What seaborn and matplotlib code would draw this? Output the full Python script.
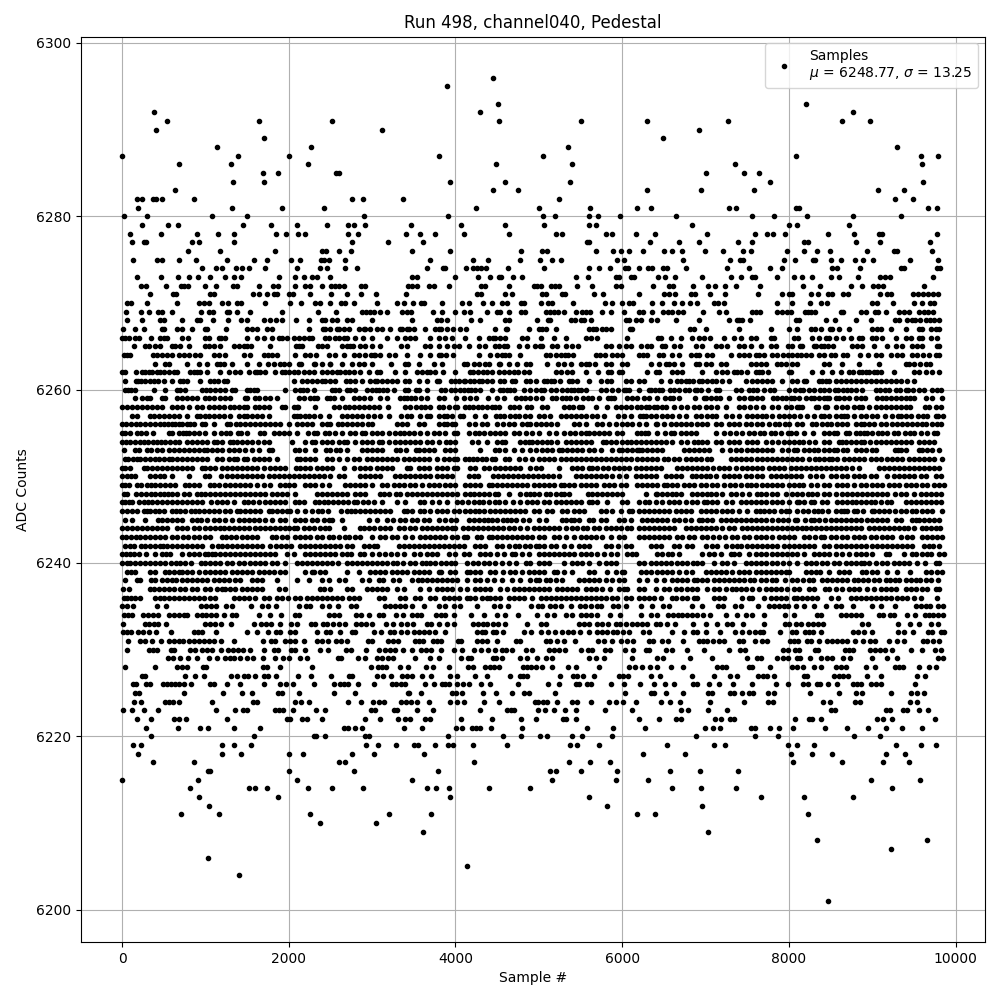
import matplotlib
matplotlib.use("Agg")
import matplotlib.pyplot as plt
from matplotlib.lines import Line2D
import seaborn as sns
import pandas as pd

title = "Run 498, channel040, Pedestal"
x_label = "Sample #"
y_label = "ADC Counts"
legend_label = "Samples\n$\\mu$ = 6248.77, $\\sigma$ = 13.25"

# Sample numbers, one list per ADC count.
adc_6296 = [4456]
adc_6295 = [3904]
adc_6293 = [4516, 8204]
adc_6292 = [384, 4300, 8766]
adc_6291 = [540, 1644, 2520, 4528, 5500, 6292, 7270, 8634, 8970]
adc_6290 = [408, 3120, 6922]
adc_6289 = [1704, 6492]
adc_6288 = [1140, 2268, 5344, 9292]
adc_6287 = [0, 1392, 2004, 3808, 5052, 8084, 9580, 9784]
adc_6286 = [684, 1308, 2232, 4492, 5400, 7353, 9592]
adc_6285 = [1692, 1872, 2564, 2604, 7006, 7461, 7641]
adc_6284 = [1332, 1704, 3940, 4600, 5376, 7772, 9604]
adc_6283 = [636, 4456, 4756, 6292, 6946, 7581, 9066, 9377]
adc_6282 = [176, 240, 376, 404, 480, 864, 2760, 2892, 3372, 5244, 9270, 9485]
adc_6281 = [192, 1320, 1920, 2424, 4252, 4996, 5616, 6180, 6348, 7281, 7365, 8084, 8120, 9665, 9773]
adc_6280 = [24, 300, 1080, 1500, 2904, 3916, 5052, 5196, 5604, 5712, 5976, 6648, 7557, 7820, 8216, 8766, 9341]
adc_6279 = [240, 552, 672, 1452, 1788, 2100, 2460, 2712, 2784, 2916, 3472, 4072, 4600, 5064, 5604, 5688, 6840,
            8000, 8096, 8719]
adc_6278 = [96, 468, 900, 1152, 1348, 1848, 1968, 2112, 2196, 2712, 2832, 3408, 3580, 3760, 4108, 4648, 5208, 5280,
            5808, 5880, 6168, 6396, 7018, 7593, 7737, 7808, 7952, 8467, 8778, 9078, 9114, 9772]
adc_6277 = [120, 264, 288, 840, 924, 1344, 2760, 3192, 3616, 5580, 5604, 6336, 6684, 6924, 7389, 7557, 8180, 8228,
            8802, 9090, 9689]
adc_6276 = [792, 1176, 1836, 2400, 2444, 2604, 2748, 3484, 3940, 4792, 5040, 5100, 5688, 5892, 5988, 6084, 6252, 6504,
            6600, 6718, 6994, 7210, 7449, 7545, 7976, 8180, 8335, 8491, 8934, 9258, 9294, 9713]
adc_6275 = [132, 420, 480, 684, 888, 1260, 1584, 1740, 2028, 2136, 2392, 2424, 2484, 2676, 3700, 4216, 4396, 4780,
            5008, 5160, 5260, 5940, 6024, 6730, 7293, 7413, 7449, 7940, 8072, 8287, 8311, 8503, 8623, 8790, 8886,
            9006, 9449, 9785]
adc_6274 = [960, 1128, 1200, 1368, 1440, 1524, 1716, 2100, 2376, 2460, 2676, 2820, 3664, 3856, 3880, 4132, 4216, 4264,
            4312, 4372, 4636, 5064, 5604, 5724, 5856, 6036, 6072, 6204, 6312, 6360, 6492, 6532, 6766, 7257, 7521,
            7772, 7916, 8515, 8575, 8850, 9341, 9377, 9772, 9808]
adc_6273 = [180, 468, 672, 804, 912, 1056, 1236, 1344, 1428, 1884, 2076, 2184, 2280, 2340, 2496, 3484, 3536, 4000,
            4276, 4420, 4528, 4552, 4696, 4804, 5448, 5592, 5928, 5964, 6108, 6144, 6432, 6516, 6636, 6958, 7305,
            7425, 7557, 7593, 7856, 8060, 8156, 8275, 8503, 8599, 8826, 9090, 9150, 9210, 9725]
adc_6272 = [228, 288, 528, 704, 744, 792, 996, 1128, 1332, 1380, 1644, 1812, 1872, 2076, 2196, 2256, 2400, 2508, 2556,
            2604, 2664, 2868, 2916, 3432, 3484, 3544, 3688, 3748, 3928, 4312, 4360, 4648, 4936, 4972, 5020, 5140,
            5188, 5244, 5460, 5640, 5928, 5988, 6372, 6564, 6612, 6850, 7030, 7114, 7234, 7365, 7653, 8168, 8371,
            8743, 8874, 9006, 9066, 9126, 9617]
adc_6271 = [336, 612, 648, 1056, 1104, 1572, 1644, 1740, 1824, 1864, 2004, 2052, 2256, 2508, 2700, 2868, 3048, 3408,
            4264, 4312, 4600, 4684, 5040, 5088, 5280, 5316, 5664, 5772, 6204, 6504, 6564, 6636, 6826, 6874, 7054,
            7234, 7629, 7916, 8000, 8036, 8263, 8347, 8467, 8515, 8647, 8707, 9090, 9174, 9222, 9485, 9545, 9605,
            9665, 9725, 9785]
adc_6270 = [60, 104, 300, 660, 924, 984, 1044, 1200, 1272, 1380, 1428, 1716, 2016, 2148, 2316, 2376, 2496, 2628, 2676,
            2784, 3060, 3304, 3384, 3496, 3592, 3628, 3844, 4084, 4168, 4336, 4444, 4564, 4624, 4792, 4828, 5030,
            5114, 5160, 5412, 5792, 5876, 6000, 6084, 6132, 6356, 6476, 6620, 6716, 6814, 6898, 7102, 7150, 7222,
            7856, 8036, 8251, 8383, 8455, 8994, 9054, 9245, 9497, 9593, 9689, 9737]
adc_6269 = [48, 228, 328, 432, 480, 600, 948, 1048, 1096, 1260, 1288, 1380, 1540, 1920, 2352, 2572, 2876, 2924, 2976,
            3024, 3100, 3184, 3364, 3416, 3464, 3736, 3844, 3992, 4104, 4172, 4376, 4500, 4532, 4640, 4792, 4832,
            5080, 5128, 5176, 5224, 5300, 5440, 5520, 5568, 5616, 5752, 5860, 6020, 6200, 6252, 6360, 6492, 6548,
            6600, 6668, 6728, 6972, 7160, 7240, 7560, 7608, 7652, 7860, 7920, 7980, 8028, 8190, 8230, 8260, 8312,
            8620, 8652, 8860, 8920, 9032, 9072, 9160, 9320, 9380, 9440, 9560, 9620, 9672, 9728]
adc_6268 = [60, 244, 456, 508, 720, 896, 936, 1096, 1268, 1424, 1500, 1700, 1780, 1844, 1920, 2092, 2240, 2400, 2440,
            2524, 2576, 2700, 2756, 3000, 3480, 3780, 3824, 3900, 4190, 4290, 4590, 4640, 4980, 5110, 5130, 5390,
            5430, 5500, 5540, 5620, 6040, 6080, 6160, 6230, 6340, 6420, 6650, 6920, 7280, 7380, 7400, 7440, 7530,
            8090, 8120, 8440, 8550, 8800, 8990, 9270, 9320, 9420, 9480, 9510, 9570, 9640, 9690, 9740, 9800]
adc_6267 = [16, 160, 260, 480, 500, 660, 720, 840, 1000, 1020, 1250, 1500, 1560, 1620, 1740, 1800, 2240, 2410, 2440,
            2500, 2580, 2600, 2660, 2720, 2840, 2900, 2920, 2980, 3060, 3120, 3220, 3330, 3360, 3420, 3440, 3500,
            3640, 3760, 3800, 3830, 3900, 3970, 4050, 4130, 4480, 4620, 4610, 4880, 5000, 5040, 5080, 5200, 5600,
            5650, 5690, 5760, 5800, 5860, 6090, 6120, 6810, 6860, 7000, 7400, 7780, 8000, 8100, 8270, 8310, 8380,
            8490, 8520, 8600, 8720, 9000, 9060, 9100, 9220, 9410, 9560, 9600, 9700, 9760, 9800]
adc_6266 = [0, 30, 80, 160, 200, 350, 450, 500, 540, 720, 790, 1000, 1040, 1160, 1190, 1240, 1500, 1620, 1700, 1800,
            1880, 1920, 1980, 2060, 2120, 2180, 2240, 2280, 2440, 2480, 2560, 2600, 2660, 2700, 2800, 2890, 3000,
            3180, 3300, 3400, 3450, 3510, 3700, 3800, 3880, 3960, 4120, 4280, 4400, 4450, 4480, 4530, 4600, 4800,
            4860, 5020, 5180, 5320, 5560, 5620, 5700, 6060, 6430, 6460, 6590, 6700, 6840, 6920, 6980, 7050, 7220,
            7340, 7430, 7540, 7600, 7790, 7820, 8060, 8110, 8280, 8360, 8440, 8480, 8560, 8650, 8740, 8840, 8880,
            9000, 9040, 9120, 9280, 9400, 9460, 9560, 9600, 9700, 9780]
adc_6265 = [140, 270, 320, 400, 450, 600, 640, 700, 800, 1000, 1040, 1100, 1180, 1340, 1400, 1460, 1500, 1550, 1780,
            2090, 2120, 2160, 2350, 2400, 2460, 2640, 2700, 2740, 2770, 2850, 2920, 3000, 3100, 3350, 3420, 3640,
            3700, 3800, 3900, 3980, 4040, 4160, 4280, 4360, 4470, 4520, 4580, 4620, 4760, 4860, 4950, 5010, 5040,
            5160, 5220, 5330, 5400, 5470, 5800, 5860, 5960, 6040, 6100, 6220, 6300, 6350, 6480, 6510, 6620, 6690,
            6880, 6960, 7120, 7180, 7260, 7400, 7460, 7540, 7660, 7780, 7840, 7990, 8040, 8130, 8160, 8300, 8320,
            8390, 8420, 8470, 8530, 8760, 8820, 8880, 9020, 9180, 9290, 9360, 9480, 9540, 9600, 9780, 9800]
adc_6264 = [20, 60, 100, 370, 420, 480, 540, 600, 680, 740, 800, 880, 930, 1100, 1160, 1230, 1460, 1540, 1700, 1750,
            1800, 1860, 2080, 2190, 2260, 2330, 2480, 2560, 2660, 2780, 2840, 2920, 2990, 3020, 3040, 3100, 3200,
            3270, 3420, 3570, 3700, 3800, 3830, 3890, 3970, 4280, 4410, 4500, 4560, 4590, 4640, 4780, 5090, 5130,
            5200, 5260, 5310, 5350, 5410, 5680, 5730, 5790, 5880, 5940, 6000, 6200, 6250, 6300, 6440, 6490, 6600,
            6680, 6830, 6880, 6920, 7020, 7080, 7300, 7400, 7460, 7520, 7600, 7640, 7700, 7800, 7860, 7930, 7990,
            8040, 8100, 8140, 8200, 8260, 8360, 8420, 8500, 8550, 8650, 8700, 8850, 8950, 9040, 9110, 9220, 9300,
            9360, 9480, 9540, 9610, 9680, 9760, 9800]
adc_6263 = [400, 520, 560, 780, 920, 1020, 1140, 1170, 1220, 1320, 1500, 1640, 1750, 1820, 1900, 1940, 2000, 2120,
            2150, 2300, 2320, 2400, 2490, 2500, 2640, 2760, 2840, 2900, 3000, 3230, 3400, 3430, 3560, 3740, 3840,
            4100, 4140, 4220, 4280, 4360, 4400, 4520, 4540, 4640, 4740, 4850, 4900, 5100, 5230, 5300, 5380, 5500,
            5560, 5600, 5670, 5800, 5870, 6000, 6060, 6340, 6440, 6520, 6560, 6620, 6720, 6880, 6920, 7000, 7060,
            7180, 7240, 7540, 7600, 7660, 7720, 7860, 7900, 7960, 8040, 8100, 8420, 8480, 8640, 8840, 9080, 9400,
            9440, 9500, 9570, 9640, 9690]
adc_6262 = [0, 40, 170, 240, 280, 320, 360, 420, 460, 500, 560, 620, 660, 820, 860, 900, 940, 1020, 1170, 1280, 1360,
            1420, 1520, 1600, 1620, 1660, 1720, 1830, 1920, 1960, 2000, 2060, 2110, 2180, 2240, 2300, 2400, 2460,
            2520, 2580, 2620, 2680, 2720, 2780, 2850, 2960, 3060, 3100, 3280, 3400, 3540, 3600, 3660, 3700, 3760,
            3850, 4000, 4180, 4210, 4270, 4330, 4380, 4440, 4520, 4580, 4640, 4700, 4750, 4820, 4880, 5200, 5260,
            5340, 5400, 5560, 5710, 5830, 5860, 5960, 6000, 6300, 6400, 6440, 6600, 6660, 6720, 6960, 7120, 7200,
            7260, 7340, 7380, 7420, 7500, 7600, 7640, 7680, 7750, 8000, 8030, 8280, 8400, 8520, 8620, 8720, 8770,
            8840, 8880, 8920, 8960, 9020, 9060, 9100, 9260, 9500, 9560, 9640, 9720, 9800]
adc_6261 = [30, 170, 190, 230, 280, 330, 380, 430, 500, 600, 700, 730, 780, 930, 1060, 1100, 1150, 1220, 1260, 2064,
            2160, 2220, 2280, 2340, 2400, 2440, 2500, 2560, 2690, 2730, 2790, 2880, 2980, 3040, 3060, 3120, 3180,
            3240, 3300, 3400, 3440, 3560, 3660, 3780, 3800, 3950, 4000, 4040, 4100, 4120, 4170, 4220, 4280, 4320,
            4380, 4440, 4540, 4580, 4680, 4720, 4850, 4900, 4960, 5060, 5100, 5140, 5180, 5250, 5360, 5400, 5460,
            5600, 5750, 5820, 5860, 6040, 6100, 6200, 6260, 6460, 6570, 6660, 6700, 6760, 6800, 6850, 6920, 6960,
            7020, 7080, 7120, 7200, 7280, 7480, 7560, 7620, 7680, 7740, 7800, 7920, 8040, 8100, 8180, 8210, 8360,
            8400, 8440, 8480, 8560, 8620, 8680, 8740, 8800, 8860, 8920, 8980, 9040, 9100, 9160, 9220, 9280, 9340,
            9420, 9500]
adc_6260 = [30, 70, 110, 160, 380, 520, 660, 700, 750, 960, 1010, 1050, 1120, 1180, 1240, 1320, 1360, 1500, 1540, 1580,
            1620, 1960, 2080, 2130, 2170, 2220, 2300, 2520, 2560, 2600, 2700, 2740, 2800, 2940, 3000, 3050, 3080,
            3130, 3180, 3260, 3400, 3430, 3530, 3560, 3660, 3830, 3880, 3950, 4000, 4060, 4100, 4150, 4190, 4230,
            4300, 4440, 4530, 4570, 4620, 4650, 4700, 4820, 4900, 4960, 5020, 5060, 5150, 5200, 5280, 5340, 5380,
            5420, 5470, 5500, 5570, 5750, 5800, 5880, 5950, 6020, 6050, 6080, 6200, 6320, 6340, 6390, 6440, 6480,
            6570, 6620, 6680, 6750, 6800, 6870, 6900, 6950, 7030, 7120, 7160, 7370, 7420, 7520, 7570, 7620, 7700,
            7770, 7820, 8000, 8070, 8130, 8170, 8240, 8300, 8370, 8420, 8480, 8550, 8590, 8650, 8700, 8740, 8800,
            8880, 9040, 9090, 9150, 9200, 9290, 9330, 9400, 9430, 9490, 9560, 9620, 9720, 9780, 9820]
adc_6259 = [160, 240, 300, 340, 480, 520, 660, 720, 780, 840, 900, 1000, 1040, 1100, 1180, 1240, 1300, 1480, 1500,
            1600, 1640, 1720, 1780, 1860, 2120, 2180, 2260, 2300, 2340, 2460, 2500, 2540, 2640, 2780, 2840, 2900,
            2980, 3090, 3180, 3330, 3380, 3420, 3470, 3520, 3590, 3660, 3800, 3860, 4010, 4100, 4170, 4250, 4390,
            4500, 4580, 4730, 4790, 4840, 4890, 4970, 5040, 5160, 5200, 5280, 5320, 5370, 5440, 5530, 5590, 5640,
            5720, 5830, 5860, 5900, 6060, 6120, 6180, 6260, 6320, 6420, 6510, 6570, 6610, 6680, 6870, 6980, 7000,
            7060, 7120, 7170, 7280, 7400, 7460, 7530, 7560, 7620, 7680, 7810, 7860, 7920, 7960, 8030, 8060, 8120,
            8200, 8260, 8300, 8360, 8420, 8460, 8480, 8560, 8600, 8660, 8720, 8800, 8860, 8910, 9060, 9120, 9170,
            9220, 9280, 9340, 9400, 9450, 9500, 9640, 9720, 9840]
adc_6258 = [0, 60, 120, 180, 240, 300, 360, 420, 480, 600, 660, 720, 800, 900, 960, 1040, 1100, 1160, 1220, 1300, 1340,
            1400, 1460, 1500, 1600, 1640, 1700, 1760, 1920, 1960, 2060, 2100, 2110, 2320, 2540, 2600, 2680, 2720,
            2780, 2840, 2900, 2960, 3020, 3080, 3190, 3400, 3450, 3530, 3590, 3640, 3700, 3800, 3850, 3920, 4000,
            4020, 4120, 4160, 4210, 4270, 4320, 4380, 4440, 4470, 4520, 4660, 4700, 4760, 4860, 4910, 5040, 5100,
            5300, 5360, 5410, 5480, 5520, 5680, 5820, 5920, 5990, 6040, 6100, 6180, 6220, 6280, 6320, 6380, 6420,
            6480, 6530, 6620, 6700, 6780, 6860, 6920, 7000, 7060, 7140, 7250, 7400, 7460, 7530, 7600, 7690, 7800,
            7870, 7960, 8030, 8100, 8120, 8160, 8320, 8350, 8430, 8460, 8570, 8640, 8700, 8780, 8840, 8880, 8960,
            9040, 9100, 9170, 9220, 9290, 9350, 9400, 9450, 9630, 9680, 9760, 9820]
adc_6257 = [120, 180, 340, 380, 440, 500, 560, 620, 680, 780, 900, 940, 1000, 1040, 1100, 1160, 1220, 1300, 1400, 1460,
            1500, 1560, 1620, 1680, 1760, 2060, 2100, 2140, 2190, 2240, 2300, 2380, 2480, 2640, 2700, 2760, 2820,
            2880, 2950, 3020, 3100, 3200, 3350, 3420, 3470, 3580, 3660, 3700, 3800, 3860, 3900, 3960, 4060, 4090,
            4240, 4350, 4490, 4540, 4580, 4650, 4720, 4760, 4830, 4900, 5000, 5060, 5130, 5260, 5320, 5380, 5450,
            5500, 5570, 5640, 5700, 5780, 5950, 6020, 6100, 6210, 6250, 6290, 6350, 6410, 6480, 6540, 6600, 6680,
            6770, 6880, 6950, 7020, 7080, 7120, 7240, 7320, 7400, 7500, 7560, 7620, 7680, 7730, 7800, 7880, 7940,
            8000, 8060, 8130, 8220, 8300, 8380, 8420, 8480, 8560, 8620, 8660, 8700, 8780, 8860, 8920, 9000, 9060,
            9150, 9240, 9310, 9340, 9400, 9460, 9550, 9610, 9660, 9760, 9790, 9850]
adc_6256 = [0, 50, 110, 170, 220, 280, 340, 400, 450, 500, 550, 600, 640, 680, 720, 780, 820, 860, 960, 1000, 1100,
            1260, 1300, 1370, 1420, 1480, 1540, 1600, 1660, 1720, 1780, 1840, 1900, 2000, 2100, 2160, 2220, 2280,
            2400, 2460, 2500, 2590, 2640, 2700, 2760, 2820, 2880, 2950, 3000, 3300, 3360, 3420, 3560, 3620, 3800,
            3860, 3900, 3960, 4000, 4160, 4240, 4320, 4380, 4500, 4570, 4640, 4700, 4800, 4860, 4900, 4960, 5020,
            5080, 5150, 5220, 5420, 5480, 5560, 5700, 5760, 5840, 5920, 6000, 6060, 6120, 6200, 6290, 6400, 6420,
            6500, 6580, 6640, 6700, 6760, 6830, 6900, 6960, 7020, 7130, 7180, 7280, 7340, 7400, 7480, 7540, 7620,
            7680, 7760, 7830, 7880, 7950, 8000, 8100, 8160, 8280, 8320, 8400, 8460, 8510, 8580, 8640, 8700, 8800,
            8860, 8900, 8960, 9020, 9100, 9170, 9240, 9300, 9360, 9420, 9480, 9540, 9600, 9650, 9720, 9780, 9820]
adc_6255 = [0, 40, 100, 180, 230, 290, 370, 560, 600, 680, 730, 770, 800, 860, 920, 1000, 1100, 1190, 1250, 1300, 1390,
            1430, 1500, 1660, 1700, 1820, 1880, 1940, 2000, 2100, 2230, 2300, 2340, 2430, 2480, 2560, 2640, 2730,
            2800, 2880, 2920, 3000, 3060, 3120, 3200, 3280, 3340, 3380, 3440, 3500, 3580, 3660, 3740, 3800, 3880,
            3980, 4020, 4160, 4240, 4280, 4340, 4420, 4480, 4530, 4600, 4700, 4760, 4850, 4920, 5000, 5120, 5200,
            5300, 5370, 5430, 5500, 5560, 5600, 5660, 5720, 5780, 5840, 5940, 6000, 6180, 6220, 6270, 6310, 6420,
            6510, 6580, 6620, 6700, 6770, 6820, 6880, 7130, 7220, 7290, 7370, 7440, 7520, 7580, 7650, 7700, 7790,
            7830, 7900, 7990, 8020, 8080, 8180, 8290, 8420, 8480, 8540, 8580, 8680, 8720, 8800, 8850, 8900, 8940,
            9000, 9070, 9120, 9180, 9260, 9310, 9390, 9450, 9500, 9580, 9660, 9740, 9780]
adc_6254 = [0, 50, 100, 160, 220, 260, 310, 370, 420, 470, 520, 580, 640, 680, 780, 840, 900, 960, 1020, 1100, 1140,
            1200, 1290, 1330, 1380, 1440, 1500, 1560, 1630, 1700, 1760, 2040, 2200, 2280, 2320, 2400, 2460, 2520,
            2600, 2660, 2700, 2800, 2880, 2940, 3000, 3080, 3120, 3200, 3280, 3340, 3400, 3450, 3520, 3580, 3660,
            3720, 3800, 3890, 3930, 3990, 4200, 4270, 4380, 4500, 4560, 4600, 4780, 4830, 4880, 4920, 4980, 5040,
            5100, 5140, 5220, 5320, 5380, 5440, 5500, 5560, 5620, 5770, 5810, 5870, 5930, 6000, 6060, 6100, 6170,
            6230, 6280, 6340, 6400, 6460, 6530, 6600, 6700, 6780, 6860, 6910, 6960, 7020, 7120, 7180, 7280, 7340,
            7400, 7500, 7560, 7620, 7720, 7800, 7870, 7940, 8000, 8060, 8120, 8170, 8240, 8310, 8420, 8480, 8600,
            8640, 8690, 8740, 8800, 8860, 8900, 8970, 9040, 9100, 9160, 9220, 9280, 9340, 9400, 9470, 9560, 9620,
            9680, 9740]
adc_6253 = [20, 160, 200, 300, 350, 420, 480, 560, 620, 680, 740, 800, 860, 920, 980, 1020, 1080, 1140, 1200, 1280,
            1340, 1400, 1480, 1560, 1640, 1760, 1800, 2070, 2120, 2200, 2320, 2450, 2500, 2570, 2620, 2700, 2880,
            2940, 3000, 3060, 3120, 3290, 3340, 3410, 3530, 3560, 3620, 3680, 3740, 3880, 3940, 4000, 4300, 4480,
            4520, 4600, 4700, 4800, 4900, 4960, 5040, 5100, 5160, 5240, 5280, 5340, 5400, 5460, 5520, 5600, 5660,
            5740, 5880, 5960, 6000, 6060, 6120, 6180, 6200, 6240, 6300, 6360, 6420, 6480, 6740, 6800, 6860, 6920,
            6980, 7040, 7200, 7290, 7360, 7420, 7500, 7560, 7620, 7680, 7740, 7800, 7920, 7990, 8060, 8100, 8180,
            8240, 8300, 8350, 8420, 8480, 8540, 8580, 8650, 8700, 8800, 8860, 8920, 9000, 9050, 9270, 9310, 9350,
            9400, 9560, 9600, 9660, 9720, 9800]
adc_6252 = [40, 70, 130, 180, 220, 280, 340, 400, 440, 500, 560, 600, 660, 720, 780, 840, 900, 960, 1020, 1140, 1200,
            1280, 1340, 1380, 1460, 1500, 1580, 1640, 1700, 1760, 1860, 2100, 2140, 2200, 2260, 2320, 2460, 2520,
            2600, 2700, 2780, 2840, 2940, 3000, 3060, 3120, 3180, 3240, 3300, 3380, 3440, 3500, 3560, 3620, 3680,
            3780, 3860, 3920, 3980, 4020, 4120, 4160, 4210, 4260, 4320, 4370, 4440, 4480, 4600, 4640, 4760, 4840,
            4920, 5000, 5060, 5120, 5180, 5260, 5320, 5380, 5440, 5500, 5560, 5620, 5680, 5740, 5800, 5860, 5920,
            5980, 6040, 6100, 6180, 6240, 6300, 6360, 6420, 6500, 6550, 6620, 6680, 6760, 6820, 6880, 6940, 7020,
            7060, 7300, 7360, 7420, 7480, 7540, 7620, 7680, 7740, 7800, 7860, 7920, 7980, 8040, 8100, 8160, 8240,
            8310, 8360, 8420, 8480, 8520, 8580, 8660, 8720, 8780, 8840, 8900, 8980, 9040, 9110, 9180, 9240, 9300,
            9360, 9440, 9500, 9560, 9620, 9680, 9740, 9840]
adc_6251 = [0, 40, 90, 260, 300, 360, 420, 480, 540, 600, 660, 720, 780, 840, 960, 1000, 1060, 1120, 1200, 1260, 1320,
            1380, 1440, 1500, 1560, 1620, 1700, 1780, 1840, 1900, 1960, 2090, 2130, 2200, 2260, 2340, 2400, 2460,
            2520, 2660, 2780, 2860, 2920, 2980, 3060, 3120, 3180, 3240, 3420, 3460, 3560, 3620, 3680, 3780, 3840,
            3900, 3980, 4020, 4180, 4240, 4340, 4400, 4480, 4540, 4600, 4660, 4720, 4780, 4900, 4960, 5020, 5240,
            5400, 5460, 5520, 5600, 5640, 5700, 5770, 5830, 5900, 5960, 6020, 6080, 6160, 6220, 6280, 6340, 6400,
            6460, 6660, 6720, 6780, 6840, 6900, 6960, 7020, 7090, 7160, 7220, 7280, 7370, 7440, 7500, 7560, 7620,
            7680, 7760, 7820, 7880, 7940, 8020, 8080, 8140, 8200, 8260, 8320, 8380, 8440, 8500, 8560, 8620, 8680,
            8760, 8840, 9080, 9140, 9200, 9260, 9320, 9380, 9440, 9500, 9560, 9620, 9680, 9740, 9800]
adc_6250 = [0, 60, 110, 160, 340, 400, 450, 500, 600, 800, 1000, 1040, 1190, 1260, 1320, 1380, 1440, 1500, 1560, 1620,
            1680, 1760, 1820, 1880, 1940, 2000, 2060, 2120, 2180, 2240, 2300, 2360, 2420, 2490, 2600, 2660, 2860,
            2920, 2980, 3040, 3100, 3280, 3340, 3400, 3460, 3520, 3580, 3640, 3700, 3780, 3840, 3900, 3960, 4160,
            4220, 4270, 4450, 4510, 4570, 4630, 4690, 4750, 4810, 4870, 4930, 4990, 5050, 5110, 5170, 5240, 5440,
            5500, 5560, 5620, 5680, 5740, 5800, 5880, 5960, 6040, 6160, 6220, 6280, 6340, 6400, 6520, 6580, 6640,
            6700, 6840, 6880, 6940, 7000, 7050, 7120, 7220, 7280, 7340, 7400, 7480, 7540, 7620, 7680, 7780, 7840,
            7900, 7960, 8020, 8080, 8150, 8250, 8320, 8400, 8500, 8560, 8640, 8700, 8780, 8840, 8900, 8980, 9040,
            9180, 9260, 9320, 9380, 9440, 9500, 9580, 9640, 9760, 9820]
adc_6249 = [0, 40, 80, 180, 230, 300, 350, 400, 460, 520, 580, 640, 760, 800, 860, 920, 1060, 1100, 1160, 1230, 1300,
            1360, 1420, 1480, 1540, 1620, 1700, 1780, 1900, 1960, 2000, 2060, 2200, 2260, 2320, 2400, 2480, 2680,
            2740, 2800, 2860, 2920, 3000, 3120, 3180, 3260, 3320, 3380, 3460, 3520, 3600, 3680, 3740, 3800, 3880,
            3940, 4000, 4120, 4180, 4240, 4300, 4400, 4440, 4500, 4560, 4620, 4680, 4740, 4800, 4860, 4940, 5000,
            5060, 5120, 5180, 5260, 5300, 5360, 5420, 5500, 5570, 5620, 5680, 5780, 5840, 5900, 5980, 6040, 6180,
            6240, 6300, 6360, 6420, 6500, 6540, 6600, 6660, 6740, 6800, 6860, 6940, 7000, 7080, 7140, 7220, 7290,
            7350, 7420, 7500, 7550, 7600, 7680, 7740, 7800, 7860, 7920, 8000, 8060, 8120, 8170, 8270, 8340, 8420,
            8480, 8580, 8640, 8700, 8780, 8860, 8920, 9000, 9060, 9120, 9200, 9260, 9320, 9400, 9460, 9520, 9600,
            9660, 9740, 9800, 9860]
adc_6248 = [20, 60, 170, 230, 290, 350, 400, 450, 500, 550, 600, 660, 740, 800, 900, 950, 1000, 1060, 1120, 1180, 1240,
            1300, 1360, 1420, 1480, 1540, 1600, 1660, 1720, 1800, 1860, 1920, 1980, 2080, 2340, 2400, 2460, 2520,
            2580, 2640, 2700, 2800, 2860, 2920, 3090, 3140, 3200, 3290, 3340, 3420, 3480, 3540, 3600, 3660, 3720,
            3780, 3840, 3900, 3960, 4020, 4120, 4170, 4220, 4280, 4340, 4400, 4470, 4510, 4640, 4780, 4850, 4900,
            4940, 5000, 5080, 5130, 5200, 5260, 5300, 5360, 5590, 5640, 5700, 5760, 5820, 5880, 5940, 6000, 6280,
            6400, 6420, 6480, 6540, 6600, 6650, 6700, 6840, 6900, 6960, 7020, 7060, 7120, 7200, 7300, 7360, 7440,
            7520, 7620, 7660, 7720, 7800, 7860, 7960, 8040, 8100, 8160, 8230, 8280, 8340, 8420, 8480, 8560, 8640,
            8700, 8760, 8820, 8880, 8940, 9000, 9060, 9120, 9180, 9270, 9340, 9400, 9500, 9580, 9640, 9700, 9760,
            9820]
adc_6247 = [0, 40, 80, 120, 200, 260, 310, 360, 420, 480, 540, 600, 660, 720, 780, 840, 900, 960, 1070, 1140, 1200,
            1260, 1340, 1460, 1510, 1570, 1640, 1720, 1780, 1840, 1900, 1960, 2070, 2120, 2180, 2310, 2360, 2420,
            2470, 2530, 2590, 2650, 2710, 2780, 2820, 2890, 2950, 3020, 3120, 3300, 3400, 3570, 3620, 3720, 3800,
            3900, 4020, 4080, 4150, 4220, 4280, 4330, 4400, 4480, 4520, 4600, 4690, 4780, 4860, 4920, 4980, 5060,
            5120, 5200, 5260, 5330, 5380, 5440, 5500, 5600, 5640, 5700, 5820, 6000, 6060, 6200, 6270, 6320, 6400,
            6480, 6560, 6620, 6680, 6760, 6840, 6900, 6980, 7020, 7080, 7140, 7240, 7320, 7420, 7480, 7540, 7600,
            7660, 7720, 7800, 7860, 7920, 8000, 8100, 8120, 8180, 8260, 8300, 8400, 8460, 8580, 8640, 8700, 8760,
            8800, 8860, 8920, 8980, 9030, 9100, 9180, 9230, 9400, 9460, 9530, 9590, 9640, 9700, 9760, 9820]
adc_6246 = [0, 60, 120, 180, 260, 300, 340, 400, 440, 500, 600, 650, 700, 760, 830, 870, 920, 980, 1040, 1100, 1160,
            1240, 1300, 1380, 1420, 1480, 1540, 1600, 1660, 1760, 1800, 1860, 1920, 1980, 2020, 2100, 2200, 2280,
            2350, 2400, 2470, 2630, 2700, 2750, 2800, 2860, 2920, 2980, 3040, 3100, 3160, 3220, 3380, 3420, 3480,
            3570, 3620, 3700, 3780, 3840, 3900, 3980, 4040, 4120, 4180, 4240, 4280, 4340, 4410, 4470, 4530, 4590,
            4650, 4710, 4770, 4840, 4940, 5000, 5100, 5160, 5280, 5340, 5420, 5480, 5540, 5740, 5800, 5880, 5980,
            6080, 6120, 6200, 6260, 6320, 6380, 6440, 6500, 6560, 6640, 6700, 6760, 6820, 6940, 7000, 7060, 7120,
            7200, 7260, 7320, 7400, 7500, 7600, 7650, 7700, 7760, 7820, 7900, 7960, 8000, 8100, 8170, 8230, 8300,
            8350, 8400, 8470, 8560, 8620, 8660, 8700, 8780, 8820, 8890, 9000, 9020, 9080, 9140, 9200, 9270, 9350,
            9400, 9480, 9520, 9600, 9660, 9720, 9840]
adc_6245 = [40, 120, 280, 430, 480, 540, 600, 660, 720, 840, 900, 950, 1020, 1100, 1160, 1240, 1320, 1400, 1460, 1520,
            1580, 1640, 1720, 1800, 1900, 1960, 2080, 2140, 2200, 2280, 2340, 2420, 2480, 2520, 2640, 2960, 3060,
            3180, 3250, 3330, 3400, 3480, 3540, 3620, 3680, 3800, 3880, 3950, 4010, 4160, 4220, 4280, 4340, 4390,
            4440, 4500, 4570, 4620, 4670, 4730, 4810, 4880, 5000, 5080, 5280, 5330, 5380, 5420, 5480, 5600, 5650,
            5740, 5800, 5960, 6020, 6100, 6240, 6300, 6360, 6420, 6480, 6540, 6620, 6680, 6750, 6830, 6920, 6960,
            7020, 7080, 7180, 7240, 7300, 7360, 7420, 7480, 7540, 7600, 7660, 7720, 7800, 7870, 7930, 7990, 8070,
            8100, 8190, 8260, 8300, 8360, 8430, 8500, 8560, 8620, 8680, 8740, 8800, 8860, 8940, 9000, 9060, 9120,
            9180, 9280, 9340, 9480, 9520, 9560, 9620, 9680, 9740, 9800]
adc_6244 = [0, 60, 120, 180, 240, 300, 360, 420, 480, 540, 660, 720, 780, 860, 920, 1000, 1060, 1120, 1180, 1220, 1280,
            1340, 1400, 1460, 1520, 1600, 1660, 1720, 1780, 1840, 1900, 1960, 2000, 2064, 2100, 2180, 2240, 2300,
            2380, 2440, 2480, 2660, 2860, 2900, 2960, 3020, 3090, 3150, 3210, 3320, 3380, 3450, 3520, 3600, 3660,
            3720, 3780, 3840, 3900, 3960, 4000, 4090, 4150, 4210, 4270, 4330, 4390, 4450, 4510, 4570, 4640, 4700,
            4780, 4860, 4940, 5000, 5060, 5120, 5180, 5240, 5320, 5400, 5460, 5530, 5580, 5660, 5720, 5800, 5860,
            5930, 5990, 6060, 6100, 6200, 6260, 6320, 6380, 6440, 6500, 6560, 6620, 6760, 6820, 6880, 6940, 7000,
            7060, 7120, 7200, 7280, 7340, 7440, 7500, 7560, 7620, 7680, 7740, 7800, 7860, 7920, 7980, 8040, 8100,
            8160, 8200, 8260, 8320, 8380, 8440, 8500, 8560, 8620, 8680, 8740, 8800, 8870, 8960, 9020, 9080, 9140,
            9200, 9260, 9320, 9380, 9430, 9500, 9600, 9640, 9700, 9760, 9810]
adc_6243 = [0, 50, 110, 170, 220, 280, 340, 400, 460, 520, 600, 660, 730, 790, 860, 920, 1000, 1060, 1200, 1250, 1310,
            1370, 1440, 1500, 1560, 1620, 1800, 1850, 1920, 1980, 2080, 2140, 2200, 2260, 2340, 2400, 2480, 2530,
            2600, 2680, 2720, 2800, 2860, 3000, 3100, 3160, 3240, 3300, 3400, 3480, 3580, 3640, 3700, 3760, 3820,
            3880, 3960, 4020, 4100, 4140, 4260, 4310, 4400, 4440, 4500, 4560, 4620, 4680, 4740, 4800, 4860, 4920,
            5000, 5060, 5180, 5240, 5320, 5420, 5500, 5560, 5620, 5680, 5760, 5860, 5960, 6020, 6200, 6260, 6320,
            6380, 6440, 6500, 6560, 6660, 6720, 6800, 6860, 6960, 7020, 7090, 7160, 7230, 7320, 7380, 7460, 7520,
            7600, 7660, 7720, 7800, 7880, 7940, 8000, 8060, 8180, 8240, 8310, 8380, 8420, 8500, 8560, 8640, 8700,
            8780, 8840, 8900, 8980, 9040, 9120, 9180, 9240, 9350, 9420, 9480, 9600, 9660, 9720, 9780, 9840]
adc_6242 = [30, 90, 140, 230, 280, 340, 400, 460, 490, 540, 600, 660, 720, 780, 840, 900, 960, 1080, 1150, 1200, 1260,
            1320, 1380, 1440, 1500, 1560, 1620, 1680, 1780, 1850, 1910, 1970, 2030, 2140, 2200, 2260, 2320, 2380,
            2440, 2500, 2560, 2620, 2700, 2760, 2900, 2960, 3020, 3060, 3320, 3380, 3440, 3500, 3560, 3620, 3680,
            3740, 3800, 3860, 3920, 3980, 4040, 4100, 4240, 4300, 4360, 4500, 4560, 4640, 4720, 4760, 4840, 4900,
            4960, 5000, 5060, 5140, 5200, 5300, 5380, 5480, 5540, 5600, 5800, 5860, 5950, 6040, 6100, 6340, 6400,
            6460, 6620, 6680, 6780, 6840, 7000, 7080, 7140, 7240, 7320, 7380, 7430, 7500, 7560, 7620, 7680, 7740,
            7800, 7860, 7940, 8000, 8060, 8120, 8180, 8240, 8300, 8420, 8480, 8560, 8630, 8690, 8750, 8810, 8870,
            8930, 9000, 9060, 9120, 9180, 9240, 9300, 9360, 9420, 9480, 9620, 9680, 9730, 9800]
adc_6241 = [0, 50, 90, 140, 200, 290, 390, 480, 530, 580, 720, 800, 860, 920, 990, 1030, 1080, 1120, 1180, 1240, 1300,
            1360, 1420, 1480, 1540, 1600, 1660, 1720, 1780, 1840, 1980, 2060, 2200, 2260, 2320, 2380, 2440, 2500,
            2560, 2640, 2700, 2750, 2850, 2900, 3000, 3080, 3160, 3230, 3300, 3380, 3500, 3580, 3660, 3720, 3780,
            3920, 4000, 4100, 4160, 4300, 4360, 4420, 4500, 4580, 4680, 4720, 4800, 4880, 5000, 5060, 5120, 5180,
            5240, 5300, 5360, 5420, 5500, 5560, 5620, 5700, 5780, 5860, 5940, 6060, 6120, 6170, 6420, 6480, 6550,
            6600, 6680, 6960, 7040, 7100, 7180, 7300, 7340, 7400, 7520, 7600, 7660, 7720, 7800, 7860, 7920, 7980,
            8040, 8100, 8180, 8300, 8360, 8420, 8480, 8560, 8640, 8720, 8800, 8860, 8920, 9000, 9160, 9200, 9380,
            9480, 9530, 9600, 9660, 9700, 9800, 9860]
adc_6240 = [0, 60, 100, 160, 220, 280, 340, 400, 460, 520, 590, 650, 700, 760, 830, 950, 1000, 1060, 1120, 1180, 1260,
            1320, 1400, 1460, 1530, 1600, 1660, 1720, 1800, 1860, 1960, 2100, 2160, 2220, 2280, 2340, 2400, 2460,
            2520, 2590, 2700, 2760, 2820, 2880, 2940, 3000, 3060, 3120, 3180, 3250, 3300, 3370, 3450, 3520, 3600,
            3650, 3700, 3760, 3830, 3890, 3950, 4000, 4140, 4210, 4270, 4340, 4400, 4480, 4560, 4640, 4730, 4850,
            4900, 5000, 5060, 5120, 5300, 5400, 5460, 5520, 5600, 5720, 5800, 5860, 5920, 6200, 6260, 6340, 6400,
            6460, 6520, 6580, 6660, 6720, 6780, 6850, 6900, 6960, 7100, 7200, 7260, 7340, 7480, 7540, 7600, 7660,
            7720, 7800, 7860, 7930, 8000, 8100, 8200, 8260, 8320, 8400, 8460, 8540, 8600, 8680, 8740, 8800, 8860,
            8900, 8960, 9040, 9120, 9180, 9260, 9320, 9380, 9440, 9540, 9630, 9760, 9800]
adc_6239 = [60, 110, 160, 340, 400, 520, 560, 620, 680, 720, 780, 840, 920, 1000, 1060, 1120, 1180, 1240, 1320, 1380,
            1440, 1500, 1560, 1640, 1700, 1760, 1820, 1890, 1960, 2200, 2280, 2300, 2370, 2430, 2700, 2840, 2980,
            3040, 3100, 3160, 3240, 3300, 3360, 3420, 3500, 3560, 3620, 3680, 3800, 3830, 3930, 3990, 4140, 4180,
            4240, 4300, 4420, 4480, 4570, 4650, 4720, 4800, 4880, 4940, 5000, 5060, 5180, 5220, 5300, 5400, 5600,
            5660, 5820, 5920, 6000, 6020, 6230, 6290, 6350, 6420, 6480, 6540, 6600, 6680, 6760, 6840, 7000, 7060,
            7120, 7180, 7240, 7320, 7400, 7460, 7520, 7600, 7660, 7720, 7780, 7840, 7900, 7960, 8000, 8200, 8260,
            8320, 8370, 8480, 8600, 8660, 8720, 8880, 8920, 9000, 9060, 9180, 9300, 9450, 9640, 9700, 9780, 9840]
adc_6238 = [40, 180, 220, 350, 400, 480, 540, 600, 650, 720, 780, 840, 900, 960, 1020, 1100, 1160, 1220, 1280, 1360,
            1420, 1560, 1620, 1680, 1860, 2100, 2240, 2400, 2480, 2600, 2680, 2880, 2960, 3080, 3130, 3250, 3320,
            3480, 3550, 3600, 3660, 3720, 3780, 3840, 3900, 3960, 4020, 4140, 4240, 4300, 4380, 4460, 4560, 4680,
            4780, 4900, 4960, 5000, 5080, 5130, 5200, 5280, 5480, 5540, 5600, 5660, 5720, 5800, 5880, 5960, 6020,
            6200, 6300, 6400, 6500, 6600, 6660, 6720, 6780, 6860, 6900, 6960, 7020, 7100, 7160, 7220, 7280, 7340,
            7400, 7460, 7530, 7580, 7660, 7720, 7800, 7850, 7950, 8040, 8100, 8170, 8240, 8290, 8400, 8460, 8520,
            8580, 8640, 8700, 8780, 8830, 8890, 8950, 9020, 9080, 9160, 9210, 9270, 9320, 9400, 9460, 9520, 9570,
            9640, 9700, 9790]
adc_6237 = [10, 80, 330, 380, 440, 500, 560, 620, 700, 760, 840, 900, 1000, 1060, 1140, 1200, 1240, 1300, 1360, 1440,
            1500, 1560, 1620, 1680, 1880, 1960, 2380, 2420, 2500, 2700, 2760, 2940, 3000, 3060, 3120, 3180, 3300,
            3380, 3580, 3680, 3780, 3840, 3900, 3960, 4060, 4140, 4240, 4300, 4360, 4420, 4540, 4620, 4700, 4760,
            4820, 4880, 4940, 5000, 5060, 5120, 5220, 5280, 5340, 5400, 5460, 5560, 5620, 5680, 5760, 5850, 5960,
            6020, 6060, 6200, 6260, 6400, 6500, 6560, 6640, 6700, 6780, 6840, 6900, 7020, 7100, 7160, 7240, 7320,
            7360, 7420, 7480, 7560, 7640, 7720, 7780, 7840, 7900, 7980, 8060, 8120, 8240, 8300, 8430, 8480, 8560,
            8640, 8720, 8780, 8840, 8940, 9020, 9100, 9170, 9220, 9280, 9400, 9470, 9520, 9600, 9660, 9760, 9800]
adc_6236 = [20, 60, 110, 160, 220, 400, 450, 500, 560, 620, 680, 740, 800, 860, 920, 980, 1060, 1120, 1340, 1400, 1460,
            1520, 1600, 1700, 1760, 1860, 1920, 1990, 2080, 2140, 2220, 2280, 2340, 2400, 2460, 2520, 2580, 2640,
            2720, 2780, 2840, 3080, 3140, 3340, 3400, 3520, 3580, 3700, 3760, 3860, 3920, 3980, 4040, 4140, 4180,
            4240, 4320, 4380, 4420, 4480, 4540, 4640, 4700, 4760, 4820, 4920, 5020, 5080, 5140, 5200, 5260, 5320,
            5380, 5440, 5500, 5560, 5620, 5680, 5740, 5800, 5880, 5940, 6040, 6100, 6200, 6260, 6320, 6380, 6460,
            6600, 6640, 6720, 6780, 6860, 6900, 7100, 7160, 7220, 7440, 7520, 7560, 7700, 7780, 7840, 7900, 7960,
            8060, 8100, 8160, 8220, 8280, 8340, 8500, 8590, 8740, 8800, 8860, 8920, 8980, 9040, 9100, 9160, 9220,
            9300, 9360, 9420, 9500, 9590, 9780]
adc_6235 = [0, 60, 132, 420, 528, 948, 1008, 1068, 1128, 1248, 1320, 1548, 1680, 1752, 1848, 2124, 2208, 2256, 2400,
            2484, 2592, 2748, 2808, 3156, 3216, 3276, 3336, 3396, 3484, 3628, 3808, 3880, 3988, 4060, 4264, 4468,
            4540, 4636, 4912, 4984, 5040, 5136, 5196, 5268, 5388, 5496, 5556, 5628, 5700, 5748, 5892, 5952, 6048,
            6228, 6360, 6492, 6564, 6838, 6958, 7150, 7210, 7353, 7425, 7629, 7760, 7820, 7880, 7940, 7988, 8084,
            8180, 8300, 8443, 8563, 8623, 8766, 8994, 9102, 9270, 9521, 9581, 9641, 9689, 9784, 9844]
adc_6234 = [24, 72, 120, 252, 312, 372, 432, 564, 624, 684, 744, 784, 900, 960, 1008, 1068, 1128, 1224, 1320, 1368,
            1644, 1776, 1908, 2076, 2124, 2484, 2544, 2604, 2808, 2868, 2964, 3084, 3132, 3288, 3376, 3484, 3544,
            3584, 3772, 3832, 3880, 3988, 4192, 4348, 4504, 4600, 4756, 4972, 5100, 5184, 5328, 5400, 5508, 5568,
            5628, 5700, 5856, 5976, 6228, 6348, 6420, 6552, 6612, 6672, 6718, 6778, 6838, 6898, 6970, 7054, 7246,
            7377, 7485, 7557, 7701, 7952, 8060, 8335, 8383, 8623, 8683, 8743, 8802, 8862, 9078, 9126, 9210, 9258,
            9413, 9509, 9629, 9677, 9725, 9784, 9844]
adc_6233 = [12, 276, 324, 384, 432, 528, 996, 1056, 1116, 1188, 1308, 1584, 1668, 1728, 1788, 1896, 2028, 2100, 2268,
            2316, 2412, 2460, 2532, 2604, 2676, 2808, 2868, 2928, 3000, 3168, 3252, 3352, 3424, 3496, 3664, 3712,
            3808, 3904, 3988, 4216, 4276, 4336, 4384, 4456, 4516, 4600, 4864, 5020, 5080, 5484, 5544, 5604, 5700,
            5760, 5832, 5928, 5976, 6048, 6120, 6180, 6240, 6300, 6408, 6456, 6540, 6636, 6850, 7006, 7138, 7257,
            7317, 7449, 7701, 7952, 8000, 8084, 8144, 8228, 8287, 8347, 8407, 8874, 8946, 9305, 9449, 9557, 9701, 9784]
adc_6232 = [12, 60, 108, 192, 252, 324, 408, 588, 864, 912, 960, 1128, 1500, 1620, 1752, 1848, 1896, 2016, 2076, 2340,
            2448, 2496, 2616, 2760, 2796, 3024, 3108, 3216, 3264, 3352, 3424, 3508, 3568, 3628, 3688, 3760, 3880,
            4264, 4324, 4360, 4456, 4492, 4576, 4828, 4912, 5028, 5112, 5196, 5280, 5352, 5412, 5496, 5604, 5700,
            5760, 5820, 5892, 5940, 6012, 6084, 6252, 6324, 6600, 6744, 6852, 6898, 7006, 7174, 7353, 7437, 7521,
            7593, 7653, 7689, 7892, 8036, 8084, 8192, 8240, 8287, 8383, 8766, 8826, 8898, 8994, 9305, 9377, 9485,
            9665, 9713, 9820, 9856]
adc_6231 = [72, 216, 276, 360, 468, 564, 624, 684, 732, 804, 864, 924, 984, 1044, 1104, 1188, 1344, 1692, 1788, 1836,
            1956, 2016, 2076, 2184, 2340, 2400, 2472, 2568, 2628, 2700, 2952, 3000, 3192, 3252, 3312, 3520, 3568,
            3616, 3736, 3784, 3832, 4036, 4072, 4264, 4324, 4384, 4504, 4732, 4780, 5080, 5136, 5220, 5304, 5436,
            5712, 5784, 5880, 5988, 6060, 6132, 6324, 6372, 6480, 6552, 6730, 6922, 6970, 7018, 7090, 7162, 7222,
            7401, 7449, 7593, 7677, 7737, 8012, 8060, 8108, 8216, 8263, 8359, 8455, 8515, 8575, 8635, 8695, 8790,
            8886, 8970, 9030, 9198, 9293, 9377, 9605, 9653, 9725, 9796]
adc_6230 = [60, 324, 372, 420, 588, 624, 816, 876, 960, 1020, 1080, 1188, 1272, 1332, 1392, 1452, 1536, 1704, 1824,
            1872, 2028, 2076, 2196, 2376, 2472, 2688, 2748, 2928, 3084, 3156, 3216, 3276, 3376, 3484, 3592, 3652,
            3712, 3832, 3988, 4084, 4228, 4312, 4396, 4480, 4564, 4612, 4684, 4848, 4920, 5124, 5180, 5244, 5316,
            5500, 5592, 5640, 5796, 5856, 6036, 6132, 6288, 6324, 6528, 6600, 6778, 6982, 7281, 7413, 7473, 7928,
            7988, 8072, 8120, 8311, 8347, 8671, 8719, 8766, 8970, 9030, 9090, 9150, 9234, 9461, 9593, 9749, 9820]
adc_6229 = [552, 612, 696, 792, 900, 1044, 1140, 1236, 1296, 1344, 1416, 1500, 1572, 1692, 1836, 1932, 2004, 2136,
            2220, 2592, 2628, 2832, 2916, 3060, 3120, 3192, 3252, 3520, 3700, 3808, 4072, 4156, 4192, 4456, 4492,
            4564, 4780, 4864, 4980, 5088, 5160, 5604, 5688, 5784, 6120, 6420, 6492, 6814, 7078, 7497, 7617, 7665,
            7856, 7928, 7988, 8096, 8132, 8251, 8383, 8455, 8515, 8647, 8731, 8994, 9174, 9293, 9784, 9844]
adc_6228 = [36, 396, 660, 720, 780, 972, 1008, 1692, 1740, 1896, 2280, 2988, 3072, 3120, 3168, 3336, 3436, 3652, 3736,
            3928, 4156, 4216, 4360, 4420, 4468, 4528, 4816, 4864, 4912, 4960, 5040, 5160, 5352, 5448, 5724, 6084,
            6156, 6240, 6336, 6420, 6588, 6730, 7142, 7198, 7246, 7521, 7557, 7772, 8036, 8096, 8168, 8300, 8383,
            8563, 8623, 8683, 8922, 9030, 9270, 9317, 9365, 9557, 9677, 9761]
adc_6227 = [240, 276, 756, 876, 984, 1308, 1380, 1464, 1512, 1596, 1704, 1752, 1848, 2112, 2268, 2508, 2724, 2760,
            3060, 3132, 3228, 3364, 3424, 3484, 3604, 3712, 3940, 4024, 4240, 4384, 4660, 4780, 4816, 4864, 5256,
            5412, 5460, 5532, 5664, 5964, 6012, 6072, 6348, 6456, 6838, 7102, 7293, 7377, 7629, 7689, 7737, 7820,
            8180, 8216, 8539, 8599, 8647, 8707, 8934, 9102, 9533, 9629]
adc_6226 = [132, 168, 288, 336, 492, 540, 588, 636, 684, 744, 828, 1056, 1104, 1260, 1416, 1704, 1896, 1968, 2052,
            2304, 2544, 2616, 2664, 2712, 2832, 3024, 3240, 3288, 3348, 3400, 3640, 3748, 3844, 3880, 3928, 4024,
            4096, 4168, 4312, 4420, 4756, 5112, 5244, 5440, 5476, 5580, 5628, 5868, 6024, 6216, 6384, 6516, 6624,
            6850, 6898, 7042, 7162, 7329, 7557, 7844, 7988, 8168, 8228, 8335, 8371, 8467, 8575, 8766, 8814, 8862,
            8982, 9042, 9102, 9509]
adc_6225 = [156, 204, 744, 1212, 1440, 1560, 1872, 1920, 2124, 2544, 2796, 3432, 3448, 3592, 3964, 4012, 4084, 4336,
            4492, 4684, 4828, 4888, 5196, 6036, 6348, 6384, 6528, 6732, 7030, 7078, 7293, 7341, 7437, 7521, 7569,
            7748, 7820, 8251, 8599, 8802, 8874, 9222, 9461, 9533, 9617]
adc_6224 = [144, 228, 516, 564, 612, 684, 1080, 1572, 1620, 2076, 2148, 2244, 2712, 2868, 3012, 3084, 3144, 3348, 3412,
            3472, 3544, 3688, 3940, 4024, 4108, 4348, 4528, 4948, 4984, 5052, 5100, 5220, 5400, 5460, 5628, 5844,
            5928, 6012, 6168, 6468, 6576, 6694, 7054, 7461, 7748, 7808, 8407, 8491, 8790, 8850, 9449, 9533]
adc_6223 = [12, 120, 264, 432, 1128, 1356, 1452, 1500, 1836, 1884, 1932, 2052, 2328, 2436, 2988, 3036, 3264, 3300, 3544,
            3736, 4300, 4624, 4672, 4708, 4984, 5068, 5184, 5316, 5448, 5796, 6120, 6706, 6790, 7030, 7257, 8503,
            8551, 9162, 9210, 9365, 9413, 9557, 9665]
adc_6222 = [180, 348, 624, 684, 768, 1260, 1980, 2016, 2160, 2220, 2400, 2916, 3096, 3312, 3400, 3460, 3640, 3700, 4072,
            4444, 4792, 4960, 5292, 5328, 5448, 6204, 6444, 6648, 6708, 7114, 7186, 7293, 7341, 8072, 8240, 8275,
            8383, 9054, 9126, 9234, 9749]
adc_6221 = [288, 672, 936, 1032, 1344, 1656, 2664, 2712, 2796, 2880, 3388, 3604, 4012, 4084, 4204, 4252, 4300, 4432,
            4804, 5580, 5892, 6276, 6994, 7090, 7174, 7545, 7593, 7772, 7880, 8048, 8431, 8695, 8946, 9162, 9353, 9593]
adc_6220 = [348, 1584, 2304, 2328, 2436, 2916, 2964, 3916, 4576, 4792, 5016, 5100, 5400, 5520, 5880, 6884, 7593,
            7868, 8778, 9090]
adc_6219 = [132, 228, 1200, 1344, 1548, 2928, 3072, 3288, 3508, 3556, 3760, 3916, 3976, 4216, 4624, 5376, 5460, 5724,
            6540, 7102, 7234, 7988, 8096, 8300, 9281, 9581, 9761]
adc_6218 = [192, 1200, 1428, 2004, 2172, 2760, 3024, 3628, 6252, 6755, 8024, 8275, 8515, 9162, 9389]
adc_6217 = [372, 864, 2604, 2676, 4228, 5364, 5616, 5856, 8048, 8635, 9126, 9437]
adc_6216 = [1032, 1056, 2004, 2784, 3796, 5136, 5208, 5508, 5940, 6576, 6934, 7389]
adc_6215 = [0, 912, 2100, 3484, 5160, 5928, 6312, 8982, 9569]
adc_6214 = [816, 1524, 1596, 1740, 2232, 2520, 2892, 3664, 3772, 3928, 4408, 4900, 6600, 6946, 7365, 9234]
adc_6213 = [924, 1872, 3940, 5604, 7665, 8180, 8766]
adc_6212 = [1044, 5820, 6958]
adc_6211 = [708, 1164, 2256, 3204, 3712, 6180, 6396, 8228]
adc_6210 = [2376, 3048]
adc_6209 = [3616, 7030]
adc_6208 = [8335, 9653]
adc_6207 = [9222]
adc_6206 = [1032]
adc_6205 = [4144]
adc_6204 = [1404]
adc_6201 = [8467]

rows = {k: v for k, v in list(globals().items()) if k.startswith("adc_")}
samples = pd.DataFrame(
    [(s, int(name[4:])) for name, xs in rows.items() for s in xs],
    columns=["sample", "adc"],
)

fig, ax = plt.subplots(figsize=(10, 10), dpi=100)
sns.scatterplot(data=samples, x="sample", y="adc", ax=ax, color="black", marker="o",
                s=9, linewidth=1, edgecolor="black", legend=False, zorder=2)
ax.set_title(title)
ax.set_xlabel(x_label)
ax.set_ylabel(y_label)
ax.ticklabel_format(useOffset=False, style="plain")
ax.grid(True)
handle = Line2D([], [], color="black", marker=".", linestyle="None")
ax.legend([handle], [legend_label], loc="upper right")
fig.subplots_adjust(left=0.081, right=0.985, bottom=0.058, top=0.9635)
fig.savefig("out.png", dpi=100)
